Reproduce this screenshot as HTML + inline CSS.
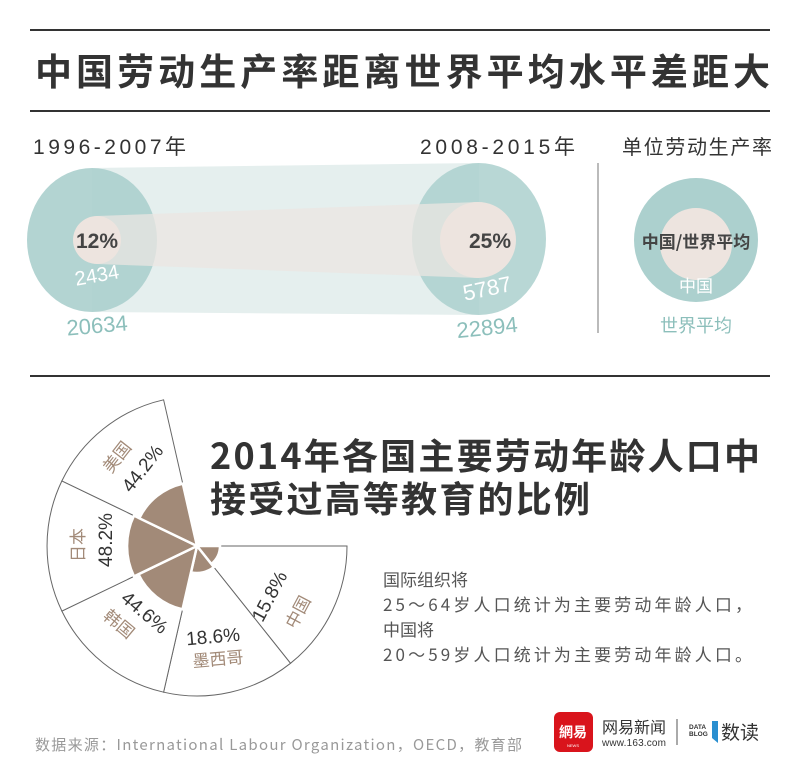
<!DOCTYPE html>
<html><head><meta charset="utf-8"><style>
body{margin:0;background:#fff;}
svg{display:block;font-family:"Liberation Sans","Noto Sans CJK SC",sans-serif;}
</style></head><body>
<svg width="800" height="782" viewBox="0 0 800 782" xmlns="http://www.w3.org/2000/svg">
<line x1="30" y1="30" x2="770" y2="30" stroke="#333" stroke-width="2"/>
<text x="35" y="85" textLength="735" lengthAdjust="spacing" font-size="37" font-weight="bold" fill="#333" font-family="Noto Sans CJK SC,sans-serif">中国劳动生产率距离世界平均水平差距大</text>
<line x1="30" y1="111" x2="770" y2="111" stroke="#333" stroke-width="2"/>

<text x="33" y="154" font-size="21" fill="#333" textLength="153">1996-2007年</text>
<text x="420" y="154" font-size="21" fill="#333" textLength="155">2008-2015年</text>
<text x="622" y="154" font-size="20" fill="#333" textLength="150">单位劳动生产率</text>

<polygon points="92,168 479,163 479,315 92,312" fill="#e5efee"/>
<ellipse cx="92" cy="240" rx="65" ry="72" fill="#acd0ce" opacity="0.92"/>
<ellipse cx="479" cy="239" rx="67" ry="76" fill="#acd0ce" opacity="0.85"/>
<polygon points="97,216 478,202 478,278 97,264" fill="#ebe6e1" opacity="0.75"/>
<ellipse cx="97" cy="240" rx="24" ry="24" fill="#ede4df"/>
<ellipse cx="478" cy="240" rx="38" ry="38" fill="#ede4df"/>
<text x="97" y="248" font-size="21" font-weight="bold" fill="#444" text-anchor="middle">12%</text>
<text x="490" y="248" font-size="21" font-weight="bold" fill="#444" text-anchor="middle">25%</text>
<text x="97" y="282" font-size="20" fill="#fff" text-anchor="middle" transform="rotate(-10 97 276)">2434</text>
<text x="487" y="296" font-size="22" fill="#fff" text-anchor="middle" transform="rotate(-12 487 288)">5787</text>
<text x="97" y="333" font-size="22" fill="#8cbfbb" text-anchor="middle" transform="rotate(-5 97 325)">20634</text>
<text x="487" y="335" font-size="22" fill="#8cbfbb" text-anchor="middle" transform="rotate(-6 487 327)">22894</text>

<line x1="598" y1="163" x2="598" y2="333" stroke="#bbb" stroke-width="2"/>
<circle cx="696" cy="240" r="62" fill="#acd0ce"/>
<circle cx="696" cy="244" r="36" fill="#ede4df"/>
<text x="696" y="248" font-size="17" font-weight="bold" fill="#444" text-anchor="middle" font-family="Noto Sans CJK SC,sans-serif">中国/世界平均</text>
<text x="696" y="292" font-size="17" fill="#fff" text-anchor="middle" font-family="Noto Sans CJK SC,sans-serif">中国</text>
<text x="696" y="332" font-size="18" fill="#8cbfbb" text-anchor="middle" font-family="Noto Sans CJK SC,sans-serif">世界平均</text>

<line x1="30" y1="376" x2="770" y2="376" stroke="#333" stroke-width="2"/>

<g transform="translate(197,546)">
<g stroke="#666" stroke-width="1" fill="#fff">
<path d="M0,0 L150,0 A150,150 0 0 1 93.5,117.3 Z"/>
<path d="M0,0 L93.5,117.3 A150,150 0 0 1 -33.4,146.2 Z"/>
<path d="M0,0 L-33.4,146.2 A150,150 0 0 1 -135.1,65.1 Z"/>
<path d="M0,0 L-135.1,65.1 A150,150 0 0 1 -135.1,-65.1 Z"/>
<path d="M0,0 L-135.1,-65.1 A150,150 0 0 1 -33.4,-146.2 Z"/>
</g>
<g fill="#a28a78" stroke="#fff" stroke-width="2.5">
<path d="M0,0 L23,0 A23,23 0 0 1 14.3,18 Z"/>
<path d="M0,0 L16.8,21.1 A27,27 0 0 1 -6,26.3 Z"/>
<path d="M0,0 L-14.5,63.4 A65,65 0 0 1 -58.6,28.2 Z"/>
<path d="M0,0 L-63,30.4 A70,70 0 0 1 -63,-30.4 Z"/>
<path d="M0,0 L-57.7,-27.8 A64,64 0 0 1 -14.2,-62.4 Z"/>
</g>
</g>
<g font-size="19" fill="#333" text-anchor="middle">
<text transform="translate(269,596) rotate(-62)" y="7">15.8%</text>
<text transform="translate(213,636) rotate(-5)" y="7">18.6%</text>
<text transform="translate(145,612) rotate(40)" y="7">44.6%</text>
<text transform="translate(105,540) rotate(-90)" y="7">48.2%</text>
<text transform="translate(142,468) rotate(-52)" y="7">44.2%</text>
</g>
<g font-size="17" fill="#a28a78" text-anchor="middle" font-family="Noto Sans CJK SC,sans-serif">
<text transform="translate(298,612) rotate(-62)" y="6">中国</text>
<text transform="translate(218,659) rotate(-5)" y="6">墨西哥</text>
<text transform="translate(119,624) rotate(40)" y="6">韩国</text>
<text transform="translate(78,545) rotate(-90)" y="6">日本</text>
<text transform="translate(117,457) rotate(-52)" y="6">美国</text>
</g>

<g font-size="36" font-weight="bold" fill="#333" font-family="Noto Sans CJK SC,sans-serif">
<text x="210" y="469" textLength="550" lengthAdjust="spacing">2014年各国主要劳动年龄人口中</text>
<text x="210" y="512" textLength="380" lengthAdjust="spacing">接受过高等教育的比例</text>
</g>
<g font-size="17" fill="#555" font-family="Noto Sans CJK SC,sans-serif">
<text x="383" y="586">国际组织将</text>
<text x="383" y="611" textLength="369">25～64岁人口统计为主要劳动年龄人口，</text>
<text x="383" y="636">中国将</text>
<text x="383" y="661" textLength="369">20～59岁人口统计为主要劳动年龄人口。</text>
</g>

<text x="35" y="750" font-size="15" fill="#999" textLength="487" font-family="Noto Sans CJK SC,sans-serif">数据来源：International Labour Organization，OECD，教育部</text>
<rect x="554" y="712" width="39" height="40" rx="6" fill="#d9141c"/>
<text x="573" y="737" font-size="14" fill="#fff" text-anchor="middle" font-weight="bold" font-family="Noto Sans CJK SC,sans-serif">網易</text>
<text x="573" y="747" font-size="4" fill="#fff" text-anchor="middle">NEWS</text>
<text x="602" y="733" font-size="16" fill="#333" font-family="Noto Sans CJK SC,sans-serif">网易新闻</text>
<text x="602" y="746" font-size="10" fill="#333" textLength="64">www.163.com</text>
<line x1="677" y1="719" x2="677" y2="745" stroke="#555" stroke-width="1"/>
<polygon points="688,721 718,721 718,743 712,738 688,738" fill="#2a8fd0"/>
<rect x="688" y="721" width="24" height="17" fill="#fff"/>
<text x="689" y="729" font-size="6.5" font-weight="bold" fill="#333">DATA</text>
<text x="689" y="736" font-size="6.5" font-weight="bold" fill="#333">BLOG</text>
<text x="721" y="739" font-size="19" fill="#333" font-family="Noto Sans CJK SC,sans-serif">数读</text>
</svg>
</body></html>
